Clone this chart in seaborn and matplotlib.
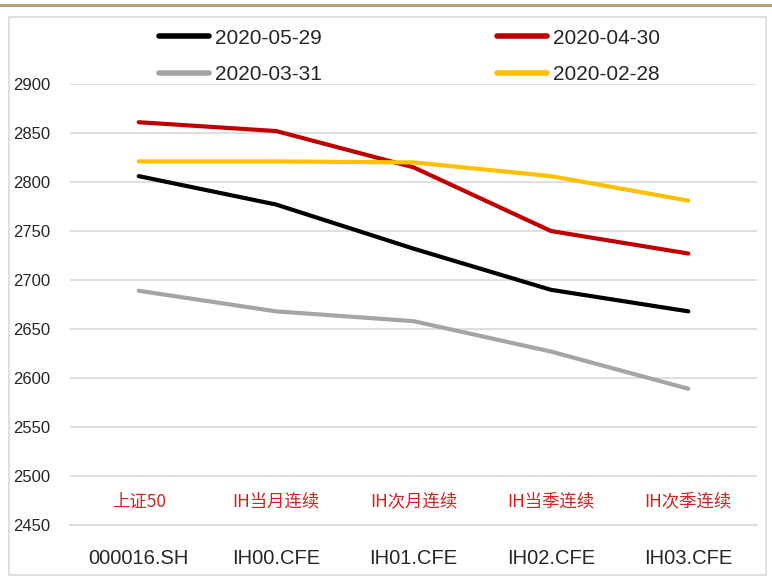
import pandas as pd
import numpy as np
import matplotlib
matplotlib.use("Agg")
import matplotlib.pyplot as plt
import seaborn as sns
from matplotlib.lines import Line2D

# data
codes = ["000016.SH", "IH00.CFE", "IH01.CFE", "IH02.CFE", "IH03.CFE"]
names_cn = ["上证50", "IH当月连续", "IH次月连续", "IH当季连续", "IH次季连续"]
dates = ["2020-05-29", "2020-04-30", "2020-03-31", "2020-02-28"]
v_0529 = [2806, 2777, 2732, 2690, 2668]
v_0430 = [2861, 2852, 2815, 2750, 2727]
v_0331 = [2689, 2668, 2658, 2627, 2589]
v_0228 = [2821, 2821, 2820, 2806, 2781]
colors = ["#000000", "#C00000", "#A5A5A5", "#FFC000"]

rows = []
for d, vals in zip(dates, [v_0529, v_0430, v_0331, v_0228]):
    for i, v in enumerate(vals):
        rows.append({"date": d, "pos": i, "value": v})
df = pd.DataFrame(rows)

sns.set_style("white")
plt.rcParams['font.family'] = ['Liberation Sans Narrow', 'Liberation Sans', 'Noto Sans CJK SC', 'DejaVu Sans']

fig = plt.figure(figsize=(7.72, 5.79), dpi=100)
ax = fig.add_axes([70/772, 1-525/579, (757-70)/772, (525-84)/579])

sns.lineplot(data=df, x="pos", y="value", hue="date", hue_order=dates,
             palette=colors, linewidth=3, legend=False, ax=ax,
             solid_capstyle="round", solid_joinstyle="round")

ax.set_xlim(-0.5, 4.5)
ax.set_ylim(2450, 2900)
ax.set_yticks(np.arange(2450, 2901, 50))
ax.yaxis.grid(True, color="#d9d9d9", linewidth=1.2)
ax.xaxis.grid(False)
for s in ["top", "right", "left"]:
    ax.spines[s].set_visible(False)
ax.spines["bottom"].set_color("#d9d9d9")
ax.spines["bottom"].set_linewidth(1.2)
ax.set_xlabel("")
ax.set_ylabel("")

ax.set_xticks(range(len(codes)))
ax.set_xticklabels(codes, fontsize=14.5)
ax.tick_params(axis="x", length=0, pad=17)
ax.set_xticks(np.arange(-0.5, 5, 1), minor=True)
ax.tick_params(axis="x", which="minor", length=7, color="#d9d9d9", width=1.2)
ax.tick_params(axis="y", length=0, labelsize=12, pad=14)

for i, n in enumerate(names_cn):
    ax.text(i, 2474, n, color="#D42020", fontsize=12.5, ha="center", va="center",
            family=['Noto Sans CJK SC', 'DejaVu Sans'])

# legend, filled row by row like the reference
handles = [Line2D([0], [0], color=c, lw=4, solid_capstyle="round") for c in colors]
order = [0, 2, 1, 3]
fig.legend([handles[k] for k in order], [dates[k] for k in order],
           loc="upper left", bbox_to_anchor=(140/772, 1-10/579),
           ncol=2, frameon=False, fontsize=15, handlelength=2.4, handletextpad=0.3,
           columnspacing=8.4, labelspacing=0.85)

# frame and top rule
fig.add_artist(plt.Rectangle((9/772, 4/579), (766-9)/772, (562-4)/579,
                             transform=fig.transFigure, fill=False,
                             edgecolor="#d9d9d9", linewidth=1.2))
fig.add_artist(Line2D([0, 1], [1-5/579, 1-5/579], transform=fig.transFigure,
                      color="#B39A6B", linewidth=2))

fig.savefig("out.png", dpi=100)
